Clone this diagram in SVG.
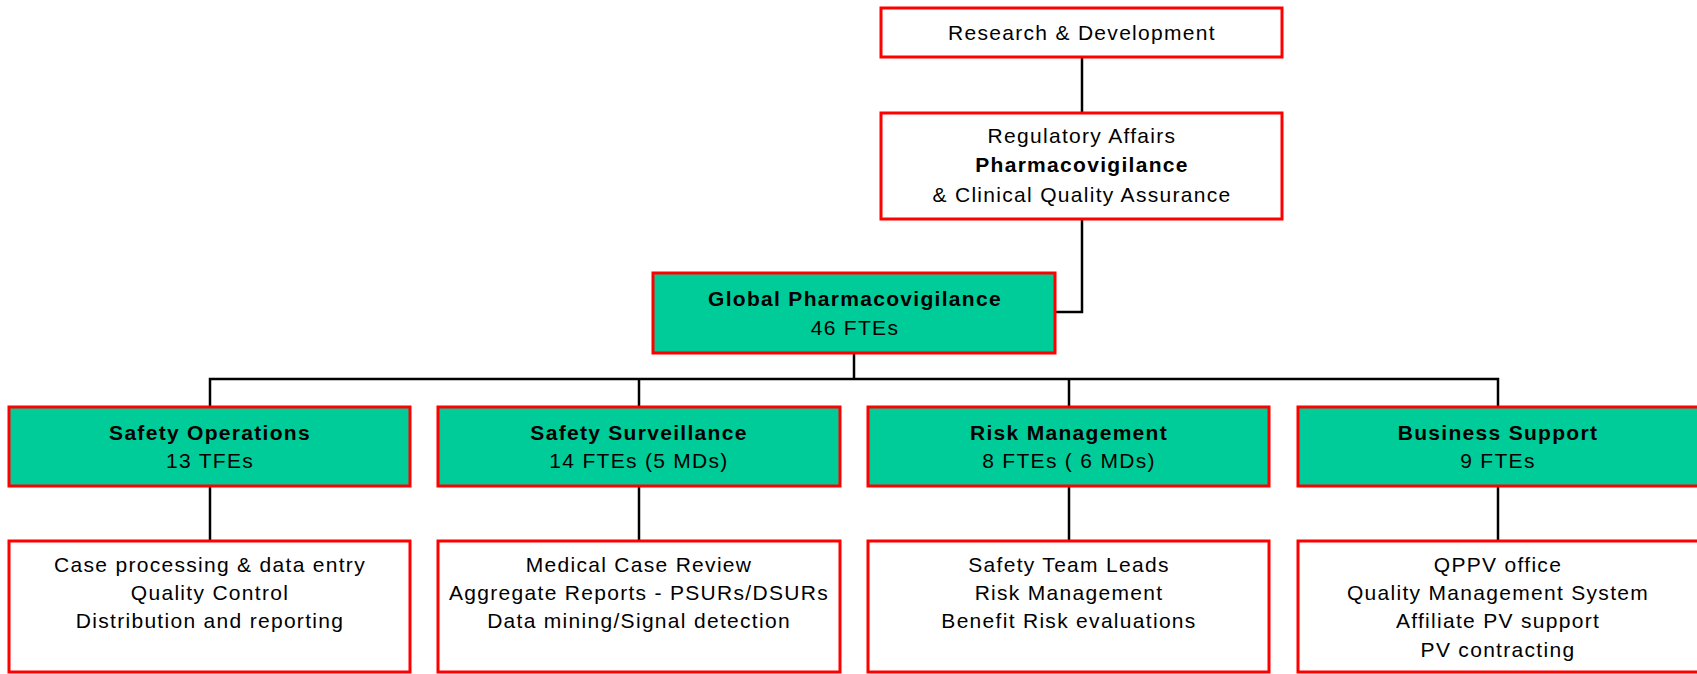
<svg xmlns="http://www.w3.org/2000/svg" width="1697" height="674" viewBox="0 0 1697 674">
<style>
.box{fill:#ffffff;stroke:#ff0000;stroke-width:3}
.g{fill:#00cc99;stroke:#ff0000;stroke-width:3}
text{font-family:"Liberation Sans",Arial,sans-serif;font-size:21px;letter-spacing:1.3px;fill:#000;text-anchor:middle}
.b{font-weight:bold}
.c{fill:none;stroke:#000;stroke-width:2.5}
</style>
<rect width="1697" height="674" fill="#fff"/>
<g id="connectors">
<path class="c" d="M1082 57V113"/>
<path class="c" d="M1082 219V312H1055"/>
<path class="c" d="M854 353V379"/>
<path class="c" d="M210 407V379H1498V407"/>
<path class="c" d="M639 379V407"/>
<path class="c" d="M1069 379V407"/>
<path class="c" d="M210 486V541"/>
<path class="c" d="M639 486V541"/>
<path class="c" d="M1069 486V541"/>
<path class="c" d="M1498 486V541"/>
</g>
<g id="rd">
<rect class="box" x="881" y="8" width="401" height="49"/>
<text x="1082" y="40">Research &amp; Development</text>
</g>
<g id="ra">
<rect class="box" x="881" y="113" width="401" height="106"/>
<text x="1082" y="143">Regulatory Affairs</text>
<text x="1082" y="172" class="b">Pharmacovigilance</text>
<text x="1082" y="202">&amp; Clinical Quality Assurance</text>
</g>
<g id="gpv">
<rect class="g" x="653" y="273" width="402" height="80"/>
<text x="855" y="306" class="b">Global Pharmacovigilance</text>
<text x="855" y="335">46 FTEs</text>
</g>
<g id="so">
<rect class="g" x="9" y="407" width="401" height="79"/>
<text x="210" y="440" class="b">Safety Operations</text>
<text x="210" y="468">13 TFEs</text>
</g>
<g id="ss">
<rect class="g" x="438" y="407" width="402" height="79"/>
<text x="639" y="440" class="b">Safety Surveillance</text>
<text x="639" y="468">14 FTEs (5 MDs)</text>
</g>
<g id="rm">
<rect class="g" x="868" y="407" width="401" height="79"/>
<text x="1069" y="440" class="b">Risk Management</text>
<text x="1069" y="468">8 FTEs ( 6 MDs)</text>
</g>
<g id="bs">
<rect class="g" x="1298" y="407" width="402" height="79"/>
<text x="1498" y="440" class="b">Business Support</text>
<text x="1498" y="468">9 FTEs</text>
</g>
<g id="so-d">
<rect class="box" x="9" y="541" width="401" height="131"/>
<text x="210" y="572">Case processing &amp; data entry</text>
<text x="210" y="600">Quality Control</text>
<text x="210" y="628">Distribution and reporting</text>
</g>
<g id="ss-d">
<rect class="box" x="438" y="541" width="402" height="131"/>
<text x="639" y="572">Medical Case Review</text>
<text x="639" y="600">Aggregate Reports - PSURs/DSURs</text>
<text x="639" y="628">Data mining/Signal detection</text>
</g>
<g id="rm-d">
<rect class="box" x="868" y="541" width="401" height="131"/>
<text x="1069" y="572">Safety Team Leads</text>
<text x="1069" y="600">Risk Management</text>
<text x="1069" y="628">Benefit Risk evaluations</text>
</g>
<g id="bs-d">
<rect class="box" x="1298" y="541" width="402" height="131"/>
<text x="1498" y="572">QPPV office</text>
<text x="1498" y="600">Quality Management System</text>
<text x="1498" y="628">Affiliate PV support</text>
<text x="1498" y="657">PV contracting</text>
</g>
</svg>
